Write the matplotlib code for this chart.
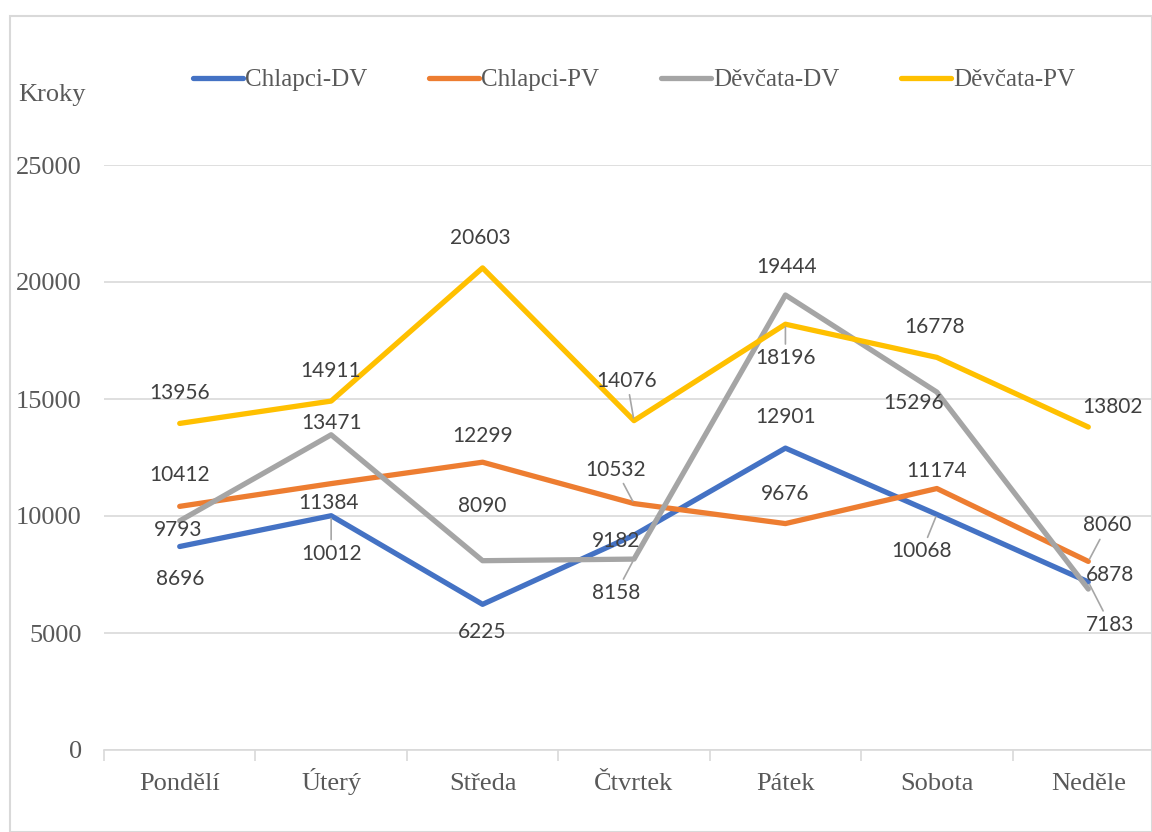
import matplotlib.pyplot as plt
from matplotlib.patches import Rectangle

# Data
dny = ["Pondělí", "Úterý", "Středa", "Čtvrtek", "Pátek", "Sobota", "Neděle"]
chlapci_dv = [8696, 10012, 6225, 9182, 12901, 10068, 7183]
chlapci_pv = [10412, 11384, 12299, 10532, 9676, 11174, 8060]
devcata_dv = [9793, 13471, 8090, 8158, 19444, 15296, 6878]
devcata_pv = [13956, 14911, 20603, 14076, 18196, 16778, 13802]

serie = [
    ("Chlapci-DV", chlapci_dv, "#4472C4"),
    ("Chlapci-PV", chlapci_pv, "#ED7D31"),
    ("Děvčata-DV", devcata_dv, "#A5A5A5"),
    ("Děvčata-PV", devcata_pv, "#FFC000"),
]

# posuny popisků v pixelech (dx, dy), a zda kreslit vodicí čáru
posun = {
    "Chlapci-DV": [(0, -32, 0), (0, -38, 1), (0, -28, 0), (-18, -6, 0), (0, 31, 0), (-15, -37, 1), (22, -43, 1)],
    "Chlapci-PV": [(0, 31, 0), (-3, -19, 0), (0, 26, 0), (-18, 34, 1), (0, 30, 0), (0, 18, 0), (19, 36, 1)],
    "Děvčata-DV": [(-2, -9, 0), (0, 12, 0), (0, 55, 0), (-18, -34, 1), (1, 28, 0), (-23, -11, 0), (22, 14, 0)],
    "Děvčata-PV": [(0, 30, 0), (-1, 30, 0), (-2, 30, 0), (-7, 40, 1), (0, -34, 1), (-2, 30, 0), (24, 20, 0)],
}

W, H = 1152, 832
fig = plt.figure(figsize=(W / 100, H / 100), dpi=100)
ax = fig.add_axes([104 / W, (H - 750) / H, 1060 / W, 585 / H])

serif = "Liberation Serif"
tcol = "#595959"

x = list(range(len(dny)))
for nazev, hodnoty, barva in serie:
    ax.plot(x, hodnoty, color=barva, lw=3.8, label=nazev, solid_capstyle="round", zorder=3)

for nazev, hodnoty, barva in serie:
    for i, v in enumerate(hodnoty):
        dx, dy, leader = posun[nazev][i]
        kw = {}
        if leader:
            kw["arrowprops"] = dict(arrowstyle="-", color="#A6A6A6", lw=1.2, shrinkA=1, shrinkB=2)
        ax.annotate(str(v), (i, v), xytext=(dx, dy), textcoords="offset pixels",
                    ha="center", va="center", fontsize=15, family="Lato",
                    color="#404040", zorder=4, **kw)

ax.set_xlim(-0.5, 6.5)
ax.set_ylim(0, 25000)
ax.set_yticks(range(0, 25001, 5000))
ax.set_xticks(x)
ax.set_xticklabels(dny)
ax.set_xticks([i - 0.5 for i in range(8)], minor=True)
ax.grid(axis="y", color="#D9D9D9", lw=1.2, zorder=0)
for s in ["top", "right", "left"]:
    ax.spines[s].set_visible(False)
ax.spines["bottom"].set_color("#D9D9D9")
ax.spines["bottom"].set_linewidth(1.2)
ax.tick_params(axis="y", length=0, pad=16, labelsize=19, labelcolor=tcol)
ax.tick_params(axis="x", which="major", length=0, pad=29, labelsize=19, labelcolor=tcol)
ax.tick_params(axis="x", which="minor", length=8, color="#D9D9D9", width=1.2)
for lab in ax.get_xticklabels():
    lab.set_family(serif)
    lab.set_va("baseline")
for lab in ax.get_yticklabels():
    lab.set_family(serif)

fig.text(18 / W, 1 - 95 / H, "Kroky", fontsize=19, family=serif, color=tcol, va="center")

leg = fig.legend(loc="center", bbox_to_anchor=(634 / W, 1 - 80 / H), ncol=4, frameon=False,
                 prop={"family": serif, "size": 18}, handlelength=2.0, handletextpad=0.1,
                 columnspacing=2.45, labelcolor=tcol)

fig.patches.append(Rectangle((10 / W, 0), (W - 10) / W, (H - 16) / H, transform=fig.transFigure,
                             fill=False, edgecolor="#D9D9D9", lw=1.5))

fig.savefig("out.png", dpi=100, facecolor="white")
